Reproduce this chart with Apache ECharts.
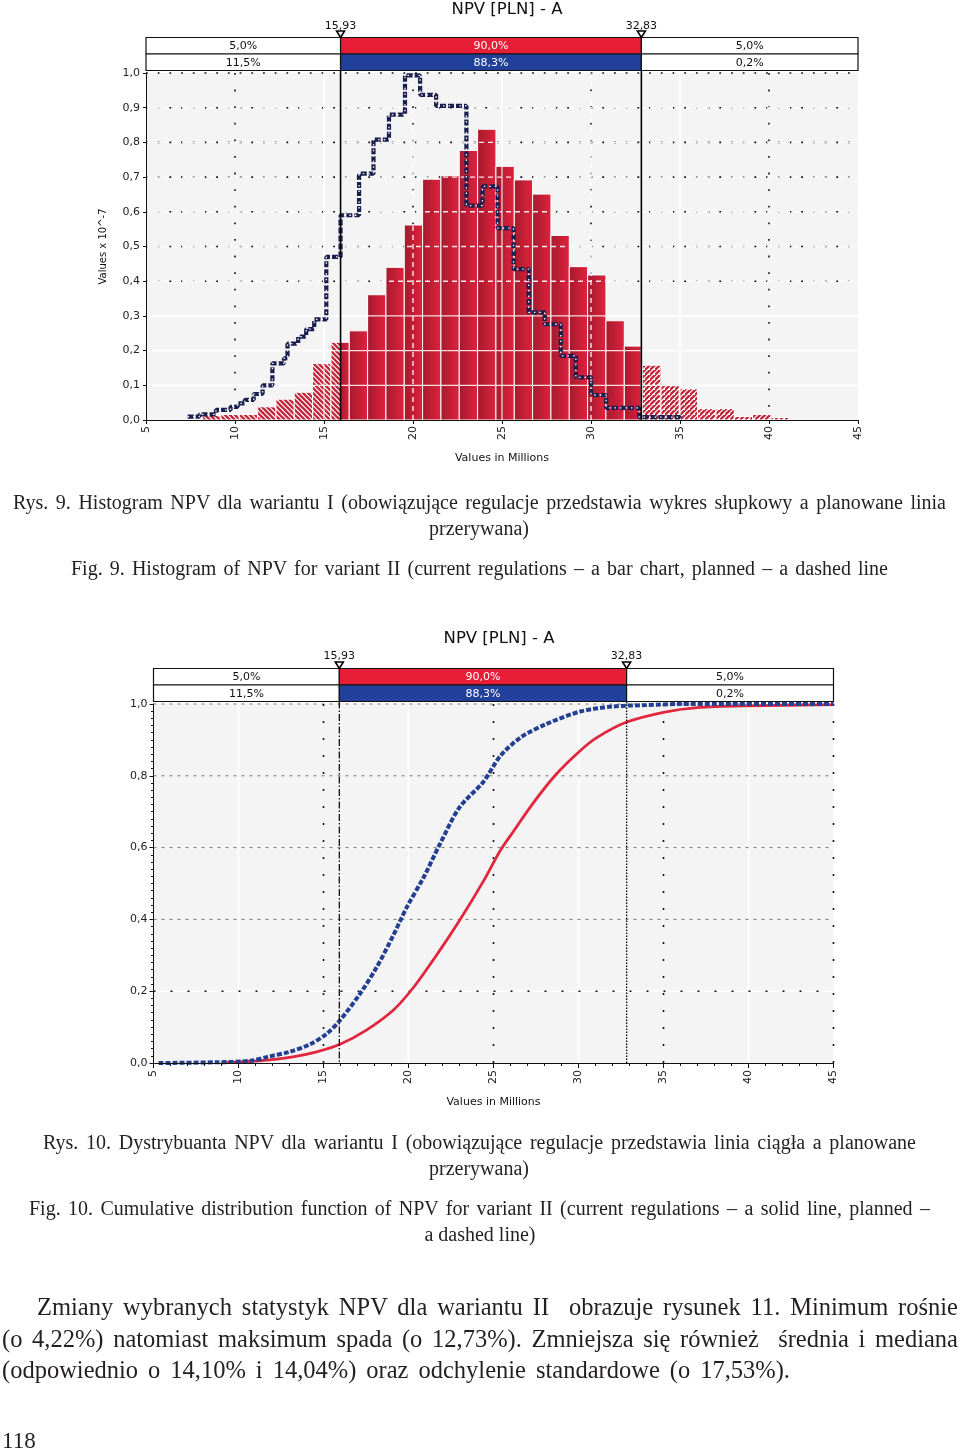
<!DOCTYPE html>
<html>
<head>
<meta charset="utf-8">
<script src="https://cdn.jsdelivr.net/npm/echarts@6/dist/echarts.min.js"></script>
<style>
html,body{margin:0;padding:0;background:#fff;}
#wrap{position:relative;width:960px;height:1454px;overflow:hidden;}
#chart{position:absolute;left:0;top:0;width:960px;height:1454px;}
.t{position:absolute;font-family:"Liberation Serif","DejaVu Serif",serif;color:#231f20;white-space:pre;}
</style>
</head>
<body>
<div id="wrap">
<div id="chart"></div>
<div class="t" data-l="13" data-r="946" data-y="502" data-fs="20">Rys. 9. Histogram NPV dla wariantu I (obowiązujące regulacje przedstawia wykres słupkowy a planowane linia</div>
<div class="t" data-c="479" data-y="528" data-fs="20">przerywana)</div>
<div class="t" data-l="71" data-r="888" data-y="568" data-fs="20">Fig. 9. Histogram of NPV for variant II (current regulations – a bar chart, planned – a dashed line</div>
<div class="t" data-l="43" data-r="916" data-y="1142" data-fs="20">Rys. 10. Dystrybuanta NPV dla wariantu I (obowiązujące regulacje przedstawia linia ciągła a planowane</div>
<div class="t" data-c="479" data-y="1168" data-fs="20">przerywana)</div>
<div class="t" data-l="29" data-r="930" data-y="1208" data-fs="20">Fig. 10. Cumulative distribution function of NPV for variant II (current regulations – a solid line, planned –</div>
<div class="t" data-c="480" data-y="1234" data-fs="20">a dashed line)</div>
<div class="t" data-l="37" data-r="958" data-y="1308" data-fs="24.5">Zmiany wybranych statystyk NPV dla wariantu II  obrazuje rysunek 11. Minimum rośnie</div>
<div class="t" data-l="2" data-r="958" data-y="1340" data-fs="24.5">(o 4,22%) natomiast maksimum spada (o 12,73%). Zmniejsza się również  średnia i mediana</div>
<div class="t" data-l="2" data-r="790" data-y="1371" data-fs="24.5">(odpowiednio o 14,10% i 14,04%) oraz odchylenie standardowe (o 17,53%).</div>
<div class="t" data-l="2" data-y="1441" data-fs="23">118</div>
</div>
<script>
// ---------------- data ----------------
const chartTitle = 'NPV [PLN] - A';
const xAxisName = 'Values in Millions';
const yAxisName1 = 'Values x 10^-7';
const markerLow = 15.93;
const markerHigh = 32.83;
const markerLabels = ['15,93', '32,83'];
const bandTop = ['5,0%', '90,0%', '5,0%'];
const bandBottom = ['11,5%', '88,3%', '0,2%'];

// histogram (current regulations) - bin edges and heights
const histBinEdges = [8.18, 9.21, 10.24, 11.27, 12.30, 13.33, 14.36, 15.39, 16.42, 17.45, 18.48, 19.51, 20.54, 21.57, 22.60, 23.63, 24.66, 25.69, 26.72, 27.75, 28.78, 29.81, 30.84, 31.87, 32.90, 33.93, 34.96, 35.99, 37.02, 38.05, 39.08, 40.11, 41.14];
const histValues = [0.013, 0.016, 0.016, 0.038, 0.060, 0.080, 0.163, 0.224, 0.257, 0.361, 0.440, 0.562, 0.694, 0.704, 0.777, 0.838, 0.731, 0.692, 0.651, 0.532, 0.442, 0.418, 0.286, 0.213, 0.158, 0.099, 0.090, 0.033, 0.033, 0.010, 0.016, 0.007];

// planned - step line
const plannedStepX = [7.34, 8.00, 8.93, 9.75, 10.15, 10.55, 11.05, 11.55, 12.10, 12.75, 12.95, 13.55, 14.00, 14.45, 15.13, 15.93, 16.97, 17.78, 18.65, 19.55, 20.40, 21.30, 23.00, 23.90, 24.75, 25.65, 26.50, 27.40, 28.30, 29.15, 30.00, 30.85, 32.70, 35.00];
const plannedStepY = [0.010, 0.016, 0.029, 0.038, 0.048, 0.058, 0.075, 0.100, 0.163, 0.178, 0.220, 0.240, 0.262, 0.290, 0.470, 0.590, 0.710, 0.808, 0.880, 0.993, 0.937, 0.905, 0.618, 0.673, 0.553, 0.435, 0.310, 0.276, 0.185, 0.123, 0.072, 0.035, 0.008, 0.000];

// cumulative distribution
const cdfCurrentX = [9.0, 10.1, 11.7, 13.2, 14.6, 15.97, 17.5, 19.1, 20.3, 21.7, 23.0, 24.4, 25.4, 26.2, 27.3, 28.7, 30.1, 31.1, 32.8, 35.0, 37.0, 39.9, 45.0];
const cdfCurrentY = [0.000, 0.003, 0.008, 0.017, 0.031, 0.052, 0.091, 0.147, 0.211, 0.304, 0.397, 0.506, 0.592, 0.647, 0.722, 0.805, 0.870, 0.907, 0.949, 0.977, 0.990, 0.995, 0.998];
const cdfPlannedX = [5.3, 8.7, 10.7, 11.7, 13.0, 14.2, 15.2, 15.97, 17.15, 18.13, 19.1, 19.9, 20.9, 21.85, 23.0, 24.4, 25.4, 26.6, 28.1, 30.1, 32.0, 34.0, 36.0, 45.0];
const cdfPlannedY = [0.000, 0.002, 0.006, 0.017, 0.031, 0.052, 0.082, 0.119, 0.193, 0.267, 0.355, 0.434, 0.518, 0.610, 0.712, 0.783, 0.855, 0.907, 0.944, 0.979, 0.993, 0.997, 1.000, 1.000];

// grid line positions
const g1DotY = [0.4, 0.5, 0.6, 0.7, 0.8, 0.9, 1.0];
const g1DotX = [10, 20, 30, 40];
const g1WhiteY = [0.1, 0.2, 0.3];
const g1WhiteX = [15, 25, 35];
const g1WhiteDashY = [0.4, 0.5, 0.6, 0.7, 0.8, 0.9];
const g1WhiteDashX = [20, 30];
const g2GreyY = [0.4, 0.6, 0.8, 1.0];
const g2DotY = [0.2];
const g2DotX = [15, 25, 35, 45];
const g2WhiteX = [10, 20, 30, 40];

// ---------------- drawing ----------------
const F = '"DejaVu Sans", Verdana, sans-serif';
const RED = '#e81d36';
const BLUE = '#21409a';
const X_MIN = 5, X_MAX = 45;

function makeHatch(dir) {
  const s = 5;
  const c = document.createElement('canvas');
  c.width = s; c.height = s;
  const g = c.getContext('2d');
  g.fillStyle = '#ffffff'; g.fillRect(0, 0, s, s);
  g.strokeStyle = '#c4263a'; g.lineWidth = 2.3;
  g.beginPath();
  if (dir > 0) {
    g.moveTo(-1, s + 1); g.lineTo(s + 1, -1);
    g.moveTo(-s - 1, s + 1); g.lineTo(1, -1);
    g.moveTo(-1, 2 * s + 1); g.lineTo(s + 1 + s, -1 + s);
  } else {
    g.moveTo(-1, -1); g.lineTo(s + 1, s + 1);
    g.moveTo(-1, -s - 1); g.lineTo(s + 1, 1);
    g.moveTo(-1, s - 1); g.lineTo(s + 1, 2 * s + 1);
  }
  g.stroke();
  return c;
}
const hatchL = makeHatch(-1);
const hatchR = makeHatch(1);

function gridLines(gi, values, orient, style, z) {
  return {
    type: 'custom', xAxisIndex: gi, yAxisIndex: gi, z: z, silent: true,
    data: values.map(v => [v, v]),
    renderItem: function (params, api) {
      const v = api.value(0);
      const cs = params.coordSys;
      let x1, y1, x2, y2;
      if (orient === 'h') {
        const y = api.coord([X_MIN, v])[1];
        x1 = cs.x; x2 = cs.x + cs.width; y1 = y2 = y;
      } else {
        const x = api.coord([v, 0])[0];
        x1 = x2 = x; y1 = cs.y; y2 = cs.y + cs.height;
      }
      return { type: 'line', shape: { x1, y1, x2, y2 }, style: Object.assign({ fill: null }, style) };
    }
  };
}

function txt(s, x, y, color, size) {
  return {
    type: 'text',
    style: {
      text: s, x: x, y: y, fill: color,
      font: (size || 11) + 'px ' + F,
      textAlign: 'center', textVerticalAlign: 'middle',
      align: 'center', verticalAlign: 'middle'
    }
  };
}

function bandSeries(gi, loStyle, hiStyle, labelOff) {
  return {
    type: 'custom', xAxisIndex: gi, yAxisIndex: gi, z: 9, silent: true, clip: false,
    data: [[X_MIN, 0]],
    renderItem: function (params, api) {
      const cs = params.coordSys;
      const top = cs.y, bottom = cs.y + cs.height;
      const xs = [X_MIN, markerLow, markerHigh, X_MAX].map(v => api.coord([v, 0])[0]);
      const r = [top - 35.5, top - 19, top - 2.5];
      const ch = [];
      ch.push({ type: 'line', shape: { x1: xs[1], y1: r[2], x2: xs[1], y2: bottom }, style: loStyle });
      ch.push({ type: 'line', shape: { x1: xs[2], y1: r[2], x2: xs[2], y2: bottom }, style: hiStyle });
      for (let i = 0; i < 3; i++) {
        ch.push({ type: 'rect', shape: { x: xs[i], y: r[0], width: xs[i + 1] - xs[i], height: r[1] - r[0] },
          style: { fill: i === 1 ? RED : '#ffffff', stroke: '#111', lineWidth: 1.2 } });
        ch.push({ type: 'rect', shape: { x: xs[i], y: r[1], width: xs[i + 1] - xs[i], height: r[2] - r[1] },
          style: { fill: i === 1 ? BLUE : '#ffffff', stroke: '#111', lineWidth: 1.2 } });
        const cx = (xs[i] + xs[i + 1]) / 2;
        ch.push(txt(bandTop[i], cx, (r[0] + r[1]) / 2 + 0.5, i === 1 ? '#ffffff' : '#111'));
        ch.push(txt(bandBottom[i], cx, (r[1] + r[2]) / 2 + 0.5, i === 1 ? '#ffffff' : '#111'));
      }
      [1, 2].forEach(function (k) {
        const x = xs[k];
        ch.push({ type: 'polygon', shape: { points: [[x - 4, r[0] - 6.5], [x + 4, r[0] - 6.5], [x, r[0]]] },
          style: { fill: '#ffffff', stroke: '#000', lineWidth: 1.6 } });
        ch.push(txt(markerLabels[k - 1], x, r[0] - labelOff, '#111'));
      });
      return { type: 'group', children: ch };
    }
  };
}

const barGrad = new echarts.graphic.LinearGradient(0, 0, 1, 0, [
  { offset: 0, color: '#a31b2d' }, { offset: 1, color: '#e2223e' }
]);

const histData = histValues.map((v, i) => [histBinEdges[i], histBinEdges[i + 1], v]);

const fmt1 = v => v.toFixed(1).replace('.', ',');

const option = {
  animation: false,
  backgroundColor: '#ffffff',
  title: [
    { text: chartTitle, left: 502, top: -4, textAlign: 'center',
      textStyle: { fontFamily: F, fontSize: 16.5, fontWeight: 'normal', color: '#111' } },
    { text: chartTitle, left: 494, top: 625, textAlign: 'center',
      textStyle: { fontFamily: F, fontSize: 16.5, fontWeight: 'normal', color: '#111' } }
  ],
  grid: [
    { left: 146, top: 73, width: 712, height: 347, show: true, backgroundColor: '#f4f4f4', borderWidth: 0, outerBoundsMode: 'none' },
    { left: 153.5, top: 704, width: 680, height: 359, show: true, backgroundColor: '#f4f4f4', borderWidth: 0, outerBoundsMode: 'none' }
  ],
  xAxis: [
    { gridIndex: 0, type: 'value', min: X_MIN, max: X_MAX, interval: 5, z: 10,
      axisLine: { show: true, lineStyle: { color: '#111', width: 1 } },
      axisTick: { show: true, length: 4, lineStyle: { color: '#111' } },
      axisLabel: { rotate: 90, fontSize: 11, fontFamily: F, color: '#222', margin: 6 },
      splitLine: { show: false },
      name: xAxisName, nameLocation: 'middle', nameGap: 33,
      nameTextStyle: { fontSize: 11, fontFamily: F, color: '#111' } },
    { gridIndex: 1, type: 'value', min: X_MIN, max: X_MAX, interval: 5, z: 10,
      axisLine: { show: true, lineStyle: { color: '#111', width: 1 } },
      axisTick: { show: true, length: 5, lineStyle: { color: '#111' } },
      minorTick: { show: true, splitNumber: 5, length: 3, lineStyle: { color: '#111' } },
      axisLabel: { rotate: 90, fontSize: 11, fontFamily: F, color: '#222', margin: 7 },
      splitLine: { show: false },
      name: xAxisName, nameLocation: 'middle', nameGap: 34,
      nameTextStyle: { fontSize: 11, fontFamily: F, color: '#111' } }
  ],
  yAxis: [
    { gridIndex: 0, type: 'value', min: 0, max: 1, interval: 0.1, z: 10,
      axisLine: { show: true, lineStyle: { color: '#111', width: 1 } },
      axisTick: { show: true, length: 3, lineStyle: { color: '#111' } },
      axisLabel: { formatter: fmt1, fontSize: 11, fontFamily: F, color: '#222', margin: 6 },
      splitLine: { show: false },
      name: yAxisName1, nameLocation: 'middle', nameGap: 38,
      nameTextStyle: { fontSize: 10, fontFamily: F, color: '#111' } },
    { gridIndex: 1, type: 'value', min: 0, max: 1, interval: 0.2, z: 10,
      axisLine: { show: true, lineStyle: { color: '#111', width: 1 } },
      axisTick: { show: true, length: 4, lineStyle: { color: '#111' } },
      minorTick: { show: true, splitNumber: 10, length: 2.5, lineStyle: { color: '#111' } },
      axisLabel: { formatter: fmt1, fontSize: 11, fontFamily: F, color: '#222', margin: 6 },
      splitLine: { show: false } }
  ],
  series: [
    // chart 1 grid below bars
    gridLines(0, g1DotY, 'h', { stroke: '#111', lineWidth: 1.6, lineDash: [1.8, 9.9] }, 1),
    gridLines(0, g1DotX, 'v', { stroke: '#111', lineWidth: 1.6, lineDash: [1.8, 14.8] }, 1),
    gridLines(0, g1WhiteY, 'h', { stroke: '#ffffff', lineWidth: 1.2 }, 1),
    gridLines(0, g1WhiteX, 'v', { stroke: '#ffffff', lineWidth: 1.2 }, 1),
    // histogram bars
    {
      type: 'custom', name: 'current', xAxisIndex: 0, yAxisIndex: 0, z: 3,
      data: histData,
      encode: { x: [0, 1], y: 2 },
      renderItem: function (params, api) {
        const s = api.value(0), e = api.value(1), v = api.value(2);
        const parts = [];
        function seg(a, b, kind) {
          if (b - a <= 0.02) return;
          const p0 = api.coord([a, v]), p1 = api.coord([b, 0]);
          parts.push({
            type: 'rect',
            shape: { x: p0[0], y: p0[1], width: p1[0] - p0[0], height: p1[1] - p0[1] },
            style: {
              fill: kind === 's' ? barGrad : { image: kind === 'l' ? hatchL : hatchR, repeat: 'repeat' },
              stroke: '#ffffff', lineWidth: 1
            }
          });
        }
        seg(s, Math.min(e, markerLow), 'l');
        seg(Math.max(s, markerLow), Math.min(e, markerHigh), 's');
        seg(Math.max(s, markerHigh), e, 'r');
        return { type: 'group', children: parts };
      }
    },
    // chart 1 overlay lines over bars
    gridLines(0, g1WhiteY, 'h', { stroke: 'rgba(255,255,255,0.85)', lineWidth: 1.2 }, 4),
    gridLines(0, g1WhiteX, 'v', { stroke: 'rgba(255,255,255,0.85)', lineWidth: 1.2 }, 4),
    gridLines(0, g1WhiteDashY, 'h', { stroke: 'rgba(255,255,255,0.9)', lineWidth: 1.4, lineDash: [5, 4] }, 4),
    gridLines(0, g1WhiteDashX, 'v', { stroke: 'rgba(255,255,255,0.9)', lineWidth: 1.4, lineDash: [5, 4] }, 4),
    // planned step line
    {
      type: 'line', name: 'planned', xAxisIndex: 0, yAxisIndex: 0, z: 6,
      data: plannedStepX.map((x, i) => [x, plannedStepY[i]]),
      step: 'end', symbol: 'none',
      lineStyle: { color: '#1b1f50', width: 4.2, type: [6, 2] }
    },
    {
      type: 'line', xAxisIndex: 0, yAxisIndex: 0, z: 7, silent: true,
      data: plannedStepX.map((x, i) => [x, plannedStepY[i]]),
      step: 'end', symbol: 'none',
      lineStyle: { color: '#ffffff', width: 1.3, type: [1.5, 4] }
    },
    bandSeries(0, { stroke: '#000', lineWidth: 1.6 }, { stroke: '#000', lineWidth: 1.6 }, 11),

    // chart 2 grid
    gridLines(1, g2WhiteX, 'v', { stroke: '#ffffff', lineWidth: 1.5 }, 1),
    gridLines(1, g2DotY, 'h', { stroke: '#ffffff', lineWidth: 1.5 }, 1),
    gridLines(1, g2GreyY, 'h', { stroke: '#777', lineWidth: 1, lineDash: [3, 5] }, 1),
    gridLines(1, g2DotY, 'h', { stroke: '#111', lineWidth: 1.6, lineDash: [2, 15] }, 1),
    gridLines(1, g2DotX, 'v', { stroke: '#111', lineWidth: 1.6, lineDash: [2, 15] }, 1),
    {
      type: 'line', name: 'current', xAxisIndex: 1, yAxisIndex: 1, z: 5,
      data: cdfCurrentX.map((x, i) => [x, cdfCurrentY[i]]),
      smooth: 0.3, symbol: 'none',
      lineStyle: { color: '#e1263d', width: 2.8 }
    },
    {
      type: 'line', name: 'planned', xAxisIndex: 1, yAxisIndex: 1, z: 6,
      data: cdfPlannedX.map((x, i) => [x, cdfPlannedY[i]]),
      smooth: 0.3, symbol: 'none',
      lineStyle: { color: '#233f91', width: 4, type: [5, 2] }
    },
    bandSeries(1, { stroke: '#000', lineWidth: 1.2, lineDash: [7, 2, 1.5, 2] }, { stroke: '#000', lineWidth: 1.3, lineDash: [1.5, 1.5] }, 12)
  ]
};

const chart = echarts.init(document.getElementById('chart'), null, { renderer: 'canvas', width: 960, height: 1454 });
chart.setOption(option);

// ---------------- text layout ----------------
document.querySelectorAll('.t').forEach(function (el) {
  const fs = +el.dataset.fs;
  el.style.fontSize = fs + 'px';
  el.style.lineHeight = fs + 'px';
  el.style.top = (+el.dataset.y - 0.52 * fs) + 'px';
  if (el.dataset.r) {
    const L = +el.dataset.l, R = +el.dataset.r;
    el.style.left = L + 'px';
    const w = el.getBoundingClientRect().width;
    const n = (el.textContent.match(/ /g) || []).length;
    if (n) el.style.wordSpacing = ((R - L - w) / n) + 'px';
  } else if (el.dataset.c) {
    const w = el.getBoundingClientRect().width;
    el.style.left = (+el.dataset.c - w / 2) + 'px';
  } else {
    el.style.left = el.dataset.l + 'px';
  }
});
</script>
</body>
</html>
